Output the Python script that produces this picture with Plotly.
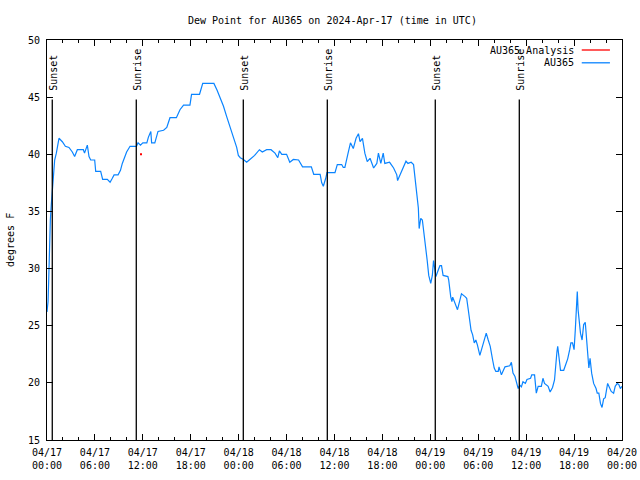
import pandas as pd
import plotly.graph_objects as go

# ---- data ----
base_time = "2024-04-17 00:00"
hours = [0.0, 0.13, 0.2, 0.3, 0.42, 0.54, 0.67, 0.79, 0.96, 1.17, 1.3, 1.5, 1.92, 2.3, 2.75, 3.17, 3.46,
         3.8, 4.0, 4.55, 4.7, 5.05, 5.26, 5.47, 5.97, 6.1, 6.72, 6.97, 7.55, 7.9, 8.18, 8.4, 8.9, 9.2,
         9.43, 9.64, 9.97, 10.4, 11.2, 11.4, 11.7, 12.0, 12.5, 12.7, 13.0, 13.1, 13.5, 13.9, 14.6, 15.0,
         15.4, 16.2, 16.65, 17.1, 17.9, 18.1, 19.1, 19.5, 20.9, 21.3, 21.7, 22.1, 22.5, 22.9, 23.3, 23.5,
         23.75, 23.96, 24.2, 24.6, 25.0, 25.4, 26.0, 26.6, 26.96, 27.5, 28.05, 28.55, 28.9, 29.1, 29.4,
         30.0, 30.4, 30.85, 31.5, 32.0, 33.1, 33.4, 34.2, 34.4, 34.6, 34.9, 35.06, 36.06, 36.35, 36.9,
         37.1, 37.3, 37.5, 37.7, 38.0, 38.35, 38.7, 39.0, 39.2, 39.5, 39.8, 40.1, 40.45, 40.9, 41.3, 41.5,
         41.8, 42.1, 42.3, 42.9, 43.4, 43.8, 43.9, 44.2, 44.6, 44.95, 45.2, 45.6, 45.9, 46.1, 46.3, 46.5,
         46.6, 46.8, 47.0, 47.2, 47.4, 47.6, 47.8, 48.05, 48.25, 48.4, 48.5, 48.7, 48.9, 49.2, 49.4, 49.6,
         50.2, 50.3, 50.55, 50.7, 50.8, 51.1, 51.4, 51.6, 51.9, 52.35, 52.55, 52.75, 52.9, 53.1, 53.3,
         53.5, 53.7, 53.9, 54.2, 54.4, 54.7, 55.0, 55.25, 55.5, 55.8, 56.0, 56.2, 56.5, 56.6, 56.9, 57.35,
         57.95, 58.15, 58.35, 58.6, 58.8, 59.0, 59.2, 59.4, 59.6, 59.9, 60.1, 60.55, 60.7, 61.05, 61.27,
         61.5, 61.9, 62.1, 62.3, 62.5, 62.75, 63.0, 63.3, 63.55, 63.7, 63.85, 63.95, 64.1, 64.3, 64.7,
         65.0, 65.2, 65.45, 65.6, 65.8, 66.0, 66.15, 66.3, 66.4, 66.5, 66.6, 66.8, 67.0, 67.2, 67.4, 67.6,
         67.75, 67.85, 68.0, 68.2, 68.45, 68.75, 68.9, 69.1, 69.3, 69.5, 69.7, 69.9, 70.2, 70.4, 70.65,
         70.95, 71.15, 71.4, 71.6, 71.8, 72.0]
dewpoint = [26.2, 27.1, 28.7, 31.6, 34.25, 35.6, 36.9, 38.0, 39.5, 40.1, 40.7, 41.4, 41.1, 40.7, 40.6, 40.2, 39.8,
            40.4, 40.4, 40.4, 40.1, 40.8, 39.8, 39.5, 39.5, 38.5, 38.5, 37.8, 37.8, 37.55, 37.9, 38.2, 38.2, 38.6,
            39.2, 39.65, 40.2, 40.7, 40.7, 41.0, 40.8, 41.0, 41.0, 41.5, 42.0, 41.0, 41.0, 42.0, 42.1, 42.35,
            43.2, 43.2, 43.9, 44.3, 44.3, 45.25, 45.25, 46.2, 46.2, 45.6, 44.9, 44.2, 43.3, 42.4, 41.5, 41.2,
            40.6, 39.9, 39.7, 39.55, 39.3, 39.55, 39.9, 40.4, 40.2, 40.4, 40.4, 40.1, 39.7, 40.3, 40.0,
            40.0, 39.3, 39.55, 39.5, 38.9, 38.9, 38.25, 38.25, 37.5, 37.2, 37.9, 38.4, 38.4, 39.1, 39.1,
            38.85, 38.85, 39.65, 40.1, 41.0, 40.5, 41.4, 41.8, 41.1, 41.4, 40.1, 39.35, 39.65, 38.8, 39.2, 40.1,
            39.2, 40.1, 39.2, 39.3, 38.8, 38.2, 37.7, 38.2, 38.9, 39.4, 39.2, 39.3, 39.1, 37.9, 36.6, 35.3,
            33.5, 34.4, 34.25, 33.2, 32.1, 30.75, 29.4, 28.7, 29.4, 30.7, 30.2, 29.3, 29.7, 30.25, 30.25, 29.4,
            29.3, 29.0, 27.55, 27.1, 27.5, 26.95, 26.4, 26.95, 27.8, 27.55, 27.4, 26.4, 25.65, 24.6, 24.2,
            23.5, 23.75, 23.3, 22.4, 22.9, 23.6, 24.35, 23.75, 23.2, 22.0, 21.3, 21.0, 21.0, 21.4, 20.7, 21.4,
            21.5, 21.8, 20.85, 20.55, 19.95, 19.5, 19.8, 19.65, 20.1, 19.95, 20.3, 20.4, 20.7, 20.7, 19.1,
            19.7, 19.7, 20.4, 19.95, 19.8, 19.7, 19.2, 19.6, 20.25, 22.0, 22.7, 23.2, 22.0, 21.1, 21.1,
            21.7, 22.1, 22.9, 23.5, 23.5, 22.9, 24.6, 27.0, 28.0, 26.4, 25.5, 24.35, 23.75, 25.1, 25.3, 23.6,
            21.85, 21.3, 22.15, 20.85, 19.95, 19.5, 19.1, 19.1, 18.2, 17.85, 18.6, 18.7, 19.95, 19.7, 19.25,
            19.1, 19.7, 19.95, 19.85, 19.5, 19.7]
analysis_hours = [11.77]
analysis_values = [40.0]
sun_hours = [0.66, 11.18, 24.58, 35.1, 48.62, 59.14]
sun_labels = ["Sunset", "Sunrise", "Sunset", "Sunrise", "Sunset", "Sunrise"]

t0 = pd.Timestamp(base_time)
times = [t0 + pd.Timedelta(hours=h) for h in hours]
a_times = [t0 + pd.Timedelta(hours=h) for h in analysis_hours]
sun_times = [t0 + pd.Timedelta(hours=h) for h in sun_hours]

FONT = "DejaVu Sans Mono"
fig = go.Figure()
fig.add_trace(go.Scatter(x=a_times, y=analysis_values, mode="markers",
                         marker=dict(color="#ff0000", size=2, symbol="square"),
                         name="AU365 Analysis"))
fig.add_trace(go.Scatter(x=times, y=dewpoint, mode="lines",
                         line=dict(color="#0a84ff", width=1.2), name="AU365"))

for t, lab in zip(sun_times, sun_labels):
    fig.add_shape(type="line", xref="x", yref="y", x0=t, x1=t, y0=15, y1=44.8,
                  line=dict(color="black", width=1.3))
    fig.add_annotation(x=t, y=45.4, xref="x", yref="y", text=lab, textangle=-90,
                       showarrow=False, xanchor="center", yanchor="bottom", xshift=1,
                       font=dict(family=FONT, size=10, color="black"))

# legend (gnuplot-style: text then line sample)
leg = [("AU365 Analysis", "#ff0000", 0.975), ("AU365", "#0a84ff", 0.943)]
for txt, col, yy in leg:
    fig.add_annotation(x=0.9195, y=yy, xref="paper", yref="paper", text=txt, showarrow=False,
                       xanchor="right", yanchor="middle",
                       font=dict(family=FONT, size=10, color="black"))
    fig.add_shape(type="line", xref="paper", yref="paper", x0=0.930, x1=0.979, y0=yy, y1=yy,
                  line=dict(color=col, width=1.3))

fig.add_annotation(x=-0.0643, y=0.5, xref="paper", yref="paper", text="degrees F", textangle=-90,
                   showarrow=False, xanchor="center", yanchor="middle",
                   font=dict(family=FONT, size=10, color="black"))

fig.update_layout(
    width=640, height=480,
    margin=dict(l=47, r=18, t=40, b=40, autoexpand=False),
    paper_bgcolor="white", plot_bgcolor="white",
    showlegend=False,
    font=dict(family=FONT, size=10, color="black"),
    title=dict(text="Dew Point for AU365 on 2024-Apr-17 (time in UTC)", x=0.5194, xanchor="center",
               y=1 - 20 / 480, yanchor="middle", yref="container",
               font=dict(family=FONT, size=10, color="black")),
    xaxis=dict(type="date", range=[t0, t0 + pd.Timedelta(hours=72)], automargin=False,
               tickformat="%m/%d<br>%H:%M", dtick=6 * 3600 * 1000, tick0=t0,
               ticks="inside", ticklen=6, tickcolor="black", tickwidth=1, ticklabelstandoff=3,
               minor=dict(dtick=2 * 3600 * 1000, ticks="inside", ticklen=3, tickcolor="black"),
               showgrid=False, zeroline=False, showline=True, linecolor="black", linewidth=1,
               mirror="allticks", tickfont=dict(family=FONT, size=10, color="black")),
    yaxis=dict(range=[15, 50], dtick=5, tick0=15, ticks="inside", ticklen=6, tickcolor="black",
               automargin=False, ticklabelstandoff=4,
               showgrid=False, zeroline=False, showline=True, linecolor="black", linewidth=1,
               mirror="allticks", tickfont=dict(family=FONT, size=10, color="black")),
)

fig.write_html("out.html")
